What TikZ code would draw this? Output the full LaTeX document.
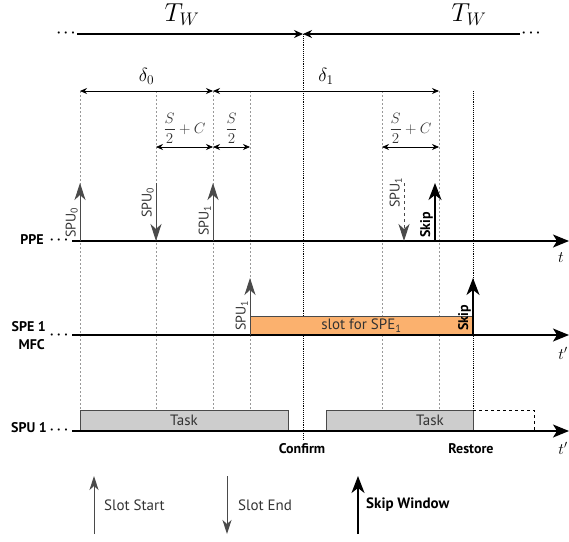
\documentclass[tikz,border=0pt]{standalone}
\usepackage{fix-cm}
\usepackage{fontspec}
\setmainfont{PT Sans}
\usetikzlibrary{arrows.meta,positioning}
\definecolor{slotgray}{HTML}{4A4A4A}
\definecolor{slotorange}{HTML}{FBB16E}
\definecolor{taskgray}{HTML}{CDCDCD}
\definecolor{textgray}{HTML}{333333}

\tikzset{
  lbl/.style={font=\fontsize{15}{17}\selectfont, inner sep=0pt, text=textgray},
  boldlbl/.style={font=\fontsize{14}{16}\selectfont\bfseries, inner sep=0pt},
  vlbl/.style={lbl, font=\fontsize{14}{16}\selectfont, rotate=90, anchor=south west},
  rowdots/.style={inner sep=0pt, font=\fontsize{14}{14}\selectfont\boldmath},
  guide/.style={gray!80, line width=0.5pt, dash pattern=on 2pt off 2pt},
  marker/.style={black, line width=0.9pt, densely dotted},
  timeline/.style={line width=1.5pt, -{Stealth[length=16pt,width=13pt,inset=4pt]}},
  slotmark/.style={slotgray, line width=1pt, -{Stealth[length=17pt,width=11pt,inset=5pt]}},
  skipmark/.style={black, line width=1.5pt, -{Stealth[length=17pt,width=13pt,inset=5pt]}},
  dimline/.style={line width=0.9pt, {Stealth[length=7pt,width=6pt]}-{Stealth[length=7pt,width=6pt]}},
  windowline/.style={line width=1.4pt, -{Stealth[length=9pt,width=8pt]}},
  taskbox/.style={fill=taskgray, draw=slotgray, line width=1pt},
  slotbox/.style={fill=slotorange, draw=slotgray, line width=1pt},
  fraclbl/.style={font=\fontsize{15}{18}\selectfont, inner sep=0pt, text=textgray},
}

\begin{document}
\begin{tikzpicture}[x=1pt,y=-1pt]
\useasboundingbox (0,0) rectangle (569,541);

% columns of the slot grid
\foreach \n/\x in {a/80, b/156, c/213, d/250, e/382, f/439}{
  \coordinate (\n-top) at (\x,91);
  \coordinate (\n-bot) at (\x,410);
}
\coordinate (conf-top) at (303,34);
\coordinate (conf-bot) at (303,440);
\coordinate (rest-top) at (473,91);
\coordinate (rest-bot) at (473,431);

% rows
\coordinate (ppeL) at (72,241);  \coordinate (ppeR) at (569,241); \coordinate (ppeHi) at (0,183);
\coordinate (speL) at (72,335);  \coordinate (speR) at (569,335); \coordinate (speHi) at (0,278);
\coordinate (spuL) at (72,431);  \coordinate (spuR) at (569,431); \coordinate (spuHi) at (0,410);
\coordinate (legLo) at (0,534);  \coordinate (legHi) at (0,476);

% windows T_W
\coordinate (twL) at (77,34);
\coordinate (twR) at (520,34);
\node[rowdots] (twLdots) at (66,33) {$\cdots$};
\node[rowdots] (twRdots) at (531,33) {$\cdots$};
\draw[windowline] (twL) -- (conf-top);
\draw[windowline] (twR) -- (conf-top);
\node[font=\fontsize{26}{30}\selectfont] (twLtxt) at (182,15) {$T_W$};
\node[font=\fontsize{26}{30}\selectfont] (twRtxt) at (469,15) {$T_W$};

% guides
\foreach \n in {a,b,c,d,e,f}
  \draw[guide] (\n-top) -- (\n-bot);
\draw[marker] (conf-top) -- (conf-bot);
\draw[marker] (rest-top) -- (rest-bot);

% delta spans
\draw[dimline] (a-top) -- (c-top) node[midway, above=3pt, font=\fontsize{19}{22}\selectfont] (d0) {$\delta_0$};
\draw[dimline] (c-top) -- (f-top) node[pos=0.5, above=3pt, font=\fontsize{19}{22}\selectfont] (d1) {$\delta_1$};

% S/2 spans
\coordinate (sRow) at (0,147);
\draw[dimline, line width=0.7pt] (b-top |- sRow) -- (c-top |- sRow) node[midway, above=3pt, fraclbl] (s0) {$\displaystyle\frac{S}{2}+C$};
\draw[dimline, line width=0.7pt] (c-top |- sRow) -- (d-top |- sRow) node[midway, above=3pt, fraclbl] (s1) {$\displaystyle\frac{S}{2}$};
\draw[dimline, line width=0.7pt] (e-top |- sRow) -- (f-top |- sRow) node[midway, above=3pt, fraclbl] (s2) {$\displaystyle\frac{S}{2}+C$};

% boxes
\draw[slotbox] (d-top |- 0,316) rectangle (rest-bot |- speL) node[midway, lbl] (slot) {slot for SPE\textsubscript{1}};
\draw[taskbox] (a-top |- spuHi) rectangle (288,431);
\node[lbl] (task0) at (184,420) {Task};
\draw[taskbox] (326,410) rectangle (rest-bot);
\node[lbl] (task1) at (430,420) {Task};
\draw[dashed, line width=0.9pt] (rest-bot |- spuHi) -- (534,410) -- (534,431);

% time axes
\draw[timeline] (ppeL) -- (ppeR);
\draw[timeline] (speL) -- (speR);
\draw[timeline] (spuL) -- (spuR);
\node[font=\fontsize{16}{19}\selectfont] (tppe) at (561,258) {$t$};
\node[font=\fontsize{16}{19}\selectfont] (tspe) at (563,353) {$t'$};
\node[font=\fontsize{16}{19}\selectfont] (tspu) at (563,448) {$t'$};

% row labels
\node[boldlbl, anchor=east] (ppelbl) at (44,240) {PPE};
\node[boldlbl, anchor=east] (spelbl) at (46,327) {SPE 1};
\node[boldlbl, anchor=east] (mfclbl) at (45,345) {MFC};
\node[boldlbl, anchor=east] (spulbl) at (47,428) {SPU 1};
\foreach \r/\y in {ppe/241, spe/336, spu/431}
  \node[rowdots] (\r-dots) at (59,\y-1) {$\cdots$};

% slot marks on PPE
\draw[slotmark] (a-top |- ppeL) -- (a-top |- ppeHi);
\node[vlbl] (m0) at (78,238) {SPU\textsubscript{0}};
\draw[slotmark] (b-top |- ppeHi) -- (b-top |- ppeL);
\node[vlbl] (m1) at (154,218) {SPU\textsubscript{0}};
\draw[slotmark] (c-top |- ppeL) -- (c-top |- ppeHi);
\node[vlbl] (m2) at (211,236) {SPU\textsubscript{1}};
\draw[slotmark, dashed] (404,183) coordinate (endtop) -- (endtop |- ppeL);
\node[vlbl] (m3) at (402,208) {SPU\textsubscript{1}};
\draw[skipmark] (435,241) coordinate (skiplo) -- (skiplo |- ppeHi);
\node[boldlbl, rotate=90, anchor=south west] (sk0) at (433,238) {Skip};

% slot marks on SPE
\draw[slotmark] (d-top |- speL) -- (d-top |- speHi);
\node[vlbl] (m4) at (248,331) {SPU\textsubscript{1}};
\draw[skipmark] (rest-bot |- speL) -- (rest-bot |- speHi);
\node[boldlbl, rotate=90, anchor=south west] (sk1) at (471,331) {Skip};

% bottom labels
\node[boldlbl] (confirm) at (302,449) {Confirm};
\node[boldlbl] (restore) at (471,449) {Restore};

% legend
\coordinate (l0) at (94,0);
\coordinate (l1) at (227,0);
\coordinate (l2) at (358,0);
\draw[slotmark, -{Stealth[length=14pt,width=9pt,inset=4pt]}] (l0 |- legLo) -- (l0 |- legHi);
\node[lbl, anchor=west] (leg0) at (104,505) {Slot Start};
\draw[slotmark, -{Stealth[length=14pt,width=9pt,inset=4pt]}] (l1 |- legHi) -- (l1 |- legLo);
\node[lbl, anchor=west] (leg1) at (238,505) {Slot End};
\draw[skipmark] (l2 |- legLo) -- (l2 |- legHi);
\node[boldlbl, anchor=west, font=\fontsize{15}{17}\selectfont\bfseries] (leg2) at (366,505) {Skip Window};
\end{tikzpicture}
\end{document}
